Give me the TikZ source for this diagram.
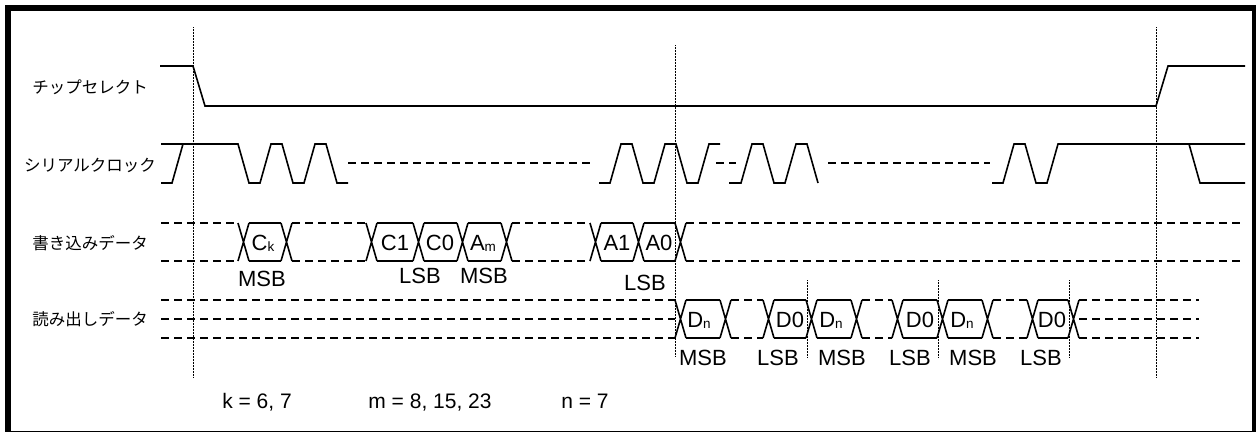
\documentclass[tikz,border=0pt]{standalone}
\usepackage{fontspec}
\setmainfont{Liberation Sans}
\newfontfamily\jpfont{Noto Sans CJK JP}
\newcommand{\sbs}[1]{{\fontsize{13.5}{14}\selectfont\raisebox{-1pt}{#1}}}

\begin{document}
\begin{tikzpicture}[x=1pt,y=-1pt]
	\tikzstyle{wave}=[line width=1.6pt, line join=miter]
	\tikzstyle{dontcare}=[line width=1.6pt, dash pattern=on 8pt off 5pt]
	\tikzstyle{marker}=[line width=1pt, dash pattern=on 1pt off 0.5pt]
	\tikzstyle{signame}=[font=\jpfont\fontsize{16.5}{18}\selectfont, inner sep=0pt]
	\tikzstyle{bitname}=[font=\fontsize{22}{24}\selectfont, inner sep=0pt]
	\tikzstyle{note}=[font=\fontsize{21}{24}\selectfont, inner sep=0pt, anchor=base]
	\useasboundingbox (0,0) rectangle (1258,434);
	\fill (5,5) rectangle (11,432);
	\fill (5,5) rectangle (1256,11);
	\fill (1252,5) rectangle (1256,432);
	\fill (5,430.5) rectangle (1256,432);

	\node[signame] (cs) at (90,87) {チップセレクト};
	\node[signame] (sck) at (90,165) {シリアルクロック};
	\node[signame] (wr) at (90,243) {書き込みデータ};
	\node[signame] (rd) at (90,319) {読み出しデータ};

	\draw[marker] (193,27) -- (193,378);
	\draw[marker] (675,45) -- (675,357);
	\draw[marker] (1156,27) -- (1156,378);
	\foreach \x in {807,938,1069}
		\draw[marker] (\x,280) -- (\x,358);

	\draw[wave] (160,66) -- (193,66) -- (205,106) -- (1156,106) -- (1168,66) -- (1245,66);

	\draw[wave] (161,144) -- (238,144) -- (249,183) -- (260,183) -- (271,144) -- (282,144)
		-- (293,183) -- (304,183) -- (315,144) -- (326,144) -- (337,183) -- (348,183);
	\draw[wave] (161,183) -- (172,183) -- (183,144);
	\draw[wave] (599,183) -- (610,183) -- (621,144) -- (632,144) -- (643,183) -- (654,183)
		-- (665,144) -- (676,144) -- (687,183) -- (698,183) -- (709,144) -- (720,144);
	\draw[wave] (729,183) -- (741,183) -- (752,144) -- (763,144) -- (774,183) -- (785,183)
		-- (796,144) -- (807,144) -- (818,183);
	\draw[wave] (992,183) -- (1003,183) -- (1014,144) -- (1025,144) -- (1036,183) -- (1047,183)
		-- (1058,144) -- (1245,144);
	\draw[wave] (1189,144) -- (1200,183) -- (1245,183);
	\draw[dontcare] (348,163) -- (592,163);
	\draw[dontcare] (716,163) -- (736,163);
	\draw[dontcare] (828,163) -- (990,163);

	\foreach \x in {238,281,366,413,457,501,590,633,675}
		\draw[wave] (\x,223) -- ++(11,38) (\x,261) -- ++(11,-38);
	\foreach \a/\b in {249/281,377/413,424/457,468/501,601/633,644/675}
		\draw[wave] (\a,223) -- (\b,223) (\a,261) -- (\b,261);
	\foreach \a/\b in {161/238,292/366,512/590,686/1240}
		\draw[dontcare] (\a,223) -- (\b,223) (\a,261) -- (\b,261);

	\foreach \x in {675,720,763,806,851,892,937,982,1027,1068}
		\draw[wave] (\x,300) -- ++(11,38) (\x,338) -- ++(11,-38);
	\foreach \a/\b in {686/720,774/806,817/851,903/937,948/982,1038/1068}
		\draw[wave] (\a,300) -- (\b,300) (\a,338) -- (\b,338);
	\foreach \a/\b in {161/675,731/763,862/892,993/1027,1079/1199}
		\draw[dontcare] (\a,300) -- (\b,300) (\a,338) -- (\b,338);
	\draw[dontcare] (161,319) -- (675,319);
	\draw[dontcare] (1079,319) -- (1199,319);

	\node[bitname, anchor=base] (ck) at (263,250) {C\sbs{k}};
	\node[bitname, anchor=base] (cone) at (395,250) {C1};
	\node[bitname, anchor=base] (czero) at (440,250) {C0};
	\node[bitname, anchor=base] (am) at (483,250) {A\sbs{m}};
	\node[bitname, anchor=base] (aone) at (617,250) {A1};
	\node[bitname, anchor=base] (azero) at (659,250) {A0};

	\node[bitname, anchor=base] (dna) at (699,327) {D\sbs{n}};
	\node[bitname, anchor=base] (d0a) at (790,327) {D0};
	\node[bitname, anchor=base] (dnb) at (831,327) {D\sbs{n}};
	\node[bitname, anchor=base] (d0b) at (920,327) {D0};
	\node[bitname, anchor=base] (dnc) at (962,327) {D\sbs{n}};
	\node[bitname, anchor=base] (d0c) at (1052,327) {D0};

	\node[bitname] (msbk) at (262,279) {MSB};
	\node[bitname] (lsbc) at (420,276) {LSB};
	\node[bitname] (msbm) at (484,276) {MSB};
	\node[bitname] (lsba) at (645,283) {LSB};

	\node[bitname] (msbd1) at (703,358) {MSB};
	\node[bitname] (lsbd1) at (778,358) {LSB};
	\node[bitname] (msbd2) at (842,358) {MSB};
	\node[bitname] (lsbd2) at (910,358) {LSB};
	\node[bitname] (msbd3) at (973,358) {MSB};
	\node[bitname] (lsbd3) at (1041,358) {LSB};

	\node[note] (kval) at (257,408) {k = 6, 7};
	\node[note] (mval) at (430,408) {m = 8, 15, 23};
	\node[note] (nval) at (585,408) {n = 7};
\end{tikzpicture}
\end{document}
